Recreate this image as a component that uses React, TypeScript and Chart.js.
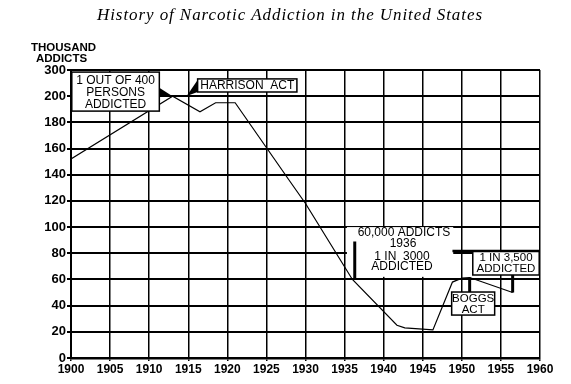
import React, { useEffect, useRef } from "react";
import { Chart, registerables } from "chart.js";

Chart.register(...registerables);

const years = [1900, 1913, 1916.5, 1918.5, 1921, 1928, 1930, 1936, 1941.7, 1942.7, 1946.3, 1948.8, 1950, 1951, 1956.5];
const addicts = [152, 200, 188, 195, 195, 135, 118, 60, 25, 23, 21.5, 58, 61, 61.5, 50];
const yTickLabels = ["0", "20", "40", "60", "80", "100", "120", "140", "160", "180", "200", "300"];
const titleText = "History of Narcotic Addiction in the United States";
const axisTitle = ["THOUSAND", "ADDICTS"];

// broken scale: 0..200 in steps of 20, then one step to 300
const toScale = (v: number) => (v <= 200 ? v / 20 : 10 + (v - 200) / 100);

const SANS = '"Liberation Sans", Arial, sans-serif';

const annotationPlugin = {
  id: "annotations",
  beforeDatasetsDraw(chart: any) {
    const ctx = chart.ctx;
    const X = (v: number) => chart.scales.x.getPixelForValue(v);
    const Y = (v: number) => chart.scales.y.getPixelForValue(toScale(v));
    ctx.save();
    ctx.fillStyle = "#fff";
    // cleared area behind the 1936 note
    ctx.fillRect(X(1935.3), Y(100), X(1948.9) - X(1935.3), Y(62) - Y(100));
    ctx.restore();
  },
  afterDatasetsDraw(chart: any) {
    const ctx = chart.ctx;
    const X = (v: number) => chart.scales.x.getPixelForValue(v);
    const Y = (v: number) => chart.scales.y.getPixelForValue(toScale(v));
    ctx.save();
    const box = (x1: number, v1: number, x2: number, v2: number) => {
      const l = X(x1), r = X(x2), t = Y(v1), b = Y(v2);
      ctx.fillStyle = "#fff";
      ctx.fillRect(l, t, r - l, b - t);
      ctx.strokeStyle = "#000";
      ctx.lineWidth = 1.5;
      ctx.strokeRect(l, t, r - l, b - t);
      return { l, r, t, b, cx: (l + r) / 2, at: (f: number) => t + (b - t) * f };
    };
    const text = (s: string, x: number, y: number, size = 11) => {
      ctx.fillStyle = "#000";
      ctx.font = `${size}px ${SANS}`;
      ctx.textAlign = "center";
      ctx.textBaseline = "middle";
      ctx.fillText(s, x, y);
    };
    const tri = (pts: number[][]) => {
      ctx.fillStyle = "#000";
      ctx.beginPath();
      ctx.moveTo(pts[0][0], pts[0][1]);
      for (let i = 1; i < pts.length; i++) ctx.lineTo(pts[i][0], pts[i][1]);
      ctx.closePath();
      ctx.fill();
    };
    const thick = (x: number, y1: number, y2: number, w = 3) => {
      ctx.strokeStyle = "#000";
      ctx.lineWidth = w;
      ctx.beginPath();
      ctx.moveTo(x, y1);
      ctx.lineTo(x, y2);
      ctx.stroke();
    };

    // 1 out of 400
    const b1 = box(1900.1, 292, 1911.3, 188.6);
    text("1 OUT OF 400", b1.cx, b1.at(0.22), 12);
    text("PERSONS", b1.cx, b1.at(0.54), 12);
    text("ADDICTED", b1.cx, b1.at(0.83), 12);
    tri([[b1.r, b1.at(0.4)], [b1.r, b1.at(0.62)], [X(1913), Y(200)]]);

    // Harrison Act
    const b2 = box(1916.2, 266, 1928.9, 216);
    text("HARRISON  ACT", b2.cx, b2.at(0.5), 12);
    tri([[b2.l, b2.t + 1], [b2.l, b2.b], [X(1914.8), Y(200.5)]]);

    // 1936 note
    const cx3 = X(1942.6);
    text("60,000 ADDICTS", cx3, Y(95.5), 12);
    text("1936", cx3 - 1, Y(87), 12);
    text("1 IN  3000", cx3 - 2, Y(77.5), 12);
    text("ADDICTED", cx3 - 2, Y(69.5), 12);
    thick(X(1936.3), Y(89), Y(61), 3);

    // 1 in 3,500
    const b4 = box(1951.4, 81.7, 1959.9, 63.4);
    ctx.strokeStyle = "#000";
    ctx.lineWidth = 2.5;
    ctx.beginPath();
    ctx.moveTo(X(1948.8), b4.t);
    ctx.lineTo(b4.r, b4.t);
    ctx.stroke();
    text("1 IN 3,500", b4.cx, b4.at(0.3), 11.5);
    text("ADDICTED", b4.cx, b4.at(0.75), 11.5);
    thick(X(1956.5), b4.b, Y(50), 3);

    // Boggs Act
    const b5 = box(1948.7, 50.4, 1954.2, 32.8);
    text("BOGGS", b5.cx, b5.at(0.28), 11.5);
    text("ACT", b5.cx, b5.at(0.76), 11.5);
    thick(X(1951), Y(61.5), b5.t, 3);
    ctx.restore();
  },
  afterDraw(chart: any) {
    const ctx = chart.ctx;
    ctx.save();
    // title
    ctx.font = 'italic 17px "Liberation Serif", "DejaVu Serif", serif';
    ctx.fillStyle = "#000";
    ctx.textBaseline = "middle";
    ctx.textAlign = "left";
    const target = 385;
    const w = ctx.measureText(titleText).width;
    const sp = Math.max(0, (target - w) / (titleText.length - 1));
    (ctx as any).letterSpacing = `${sp}px`;
    ctx.fillText(titleText, 97, 16);
    (ctx as any).letterSpacing = "0px";
    // axis title
    ctx.font = `bold 11.5px ${SANS}`;
    ctx.fillText(axisTitle[0], 31, 48);
    ctx.fillText(axisTitle[1], 36, 59);
    ctx.restore();
  },
};

export default function App() {
  const ref = useRef<HTMLCanvasElement | null>(null);
  useEffect(() => {
    if (!ref.current) return;
    const chart = new Chart(ref.current, {
      type: "line",
      data: {
        datasets: [
          {
            data: years.map((y, i) => ({ x: y, y: toScale(addicts[i]) })),
            borderColor: "#000",
            borderWidth: 1.2,
            pointRadius: 0,
            tension: 0,
            fill: false,
          },
        ],
      },
      options: {
        animation: false,
        responsive: true,
        maintainAspectRatio: false,
        devicePixelRatio: 1,
        layout: { padding: { top: 70, right: 31, left: 0, bottom: 0 } },
        plugins: {
          legend: { display: false },
          tooltip: { enabled: false },
          title: { display: false },
        },
        scales: {
          x: {
            type: "linear",
            min: 1900,
            max: 1960,
            ticks: {
              stepSize: 5,
              color: "#000",
              padding: 1,
              maxRotation: 0,
              autoSkip: false,
              font: { family: SANS, size: 12, weight: "bold" },
              callback: (v: any) => String(v),
            },
            grid: { color: "#000", lineWidth: 1.5, tickLength: 3 },
            border: { color: "#000", width: 2.5 },
            afterFit: (s: any) => {
              s.height = 26;
            },
          },
          y: {
            type: "linear",
            min: 0,
            max: 11,
            ticks: {
              stepSize: 1,
              color: "#000",
              padding: 1,
              autoSkip: false,
              font: { family: SANS, size: 13, weight: "bold" },
              callback: (v: any) => yTickLabels[Math.round(Number(v))] ?? "",
            },
            grid: { color: "#000", lineWidth: 2, tickLength: 4 },
            border: { color: "#000", width: 2 },
            afterFit: (s: any) => {
              s.width = 71;
            },
          },
        },
      },
      plugins: [annotationPlugin],
    });
    return () => chart.destroy();
  }, []);
  return (
    <div style={{ position: "absolute", left: 0, top: 0, width: 571, height: 384, background: "#fff" }}>
      <canvas ref={ref} />
    </div>
  );
}
